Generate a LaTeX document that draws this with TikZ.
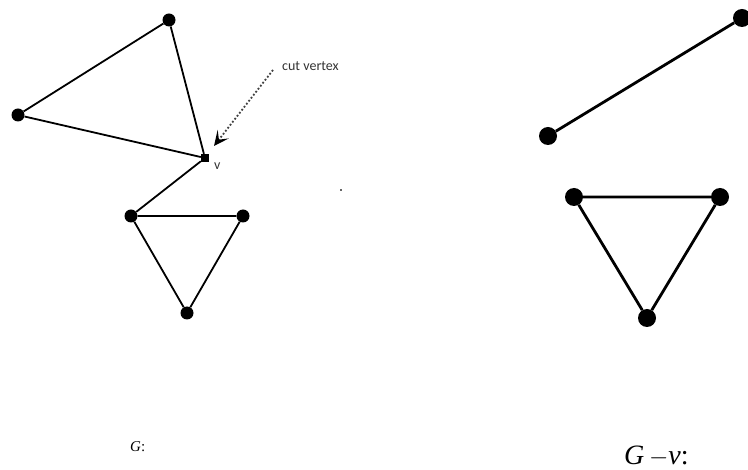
\documentclass[tikz,border=0pt]{standalone}
\usepackage{fontspec}
\setmainfont{Liberation Serif}
\newfontfamily\calibri{Carlito}
\usetikzlibrary{arrows.meta}
\begin{document}
\begin{tikzpicture}[x=1pt,y=-1pt,
  dotL/.style={circle,fill=black,inner sep=0pt,minimum size=13pt},
  dotR/.style={circle,fill=black,inner sep=0pt,minimum size=18pt},
  cutv/.style={rectangle,fill=black,inner sep=0pt,minimum size=8pt},
  edgeL/.style={line width=1.8pt},
  edgeR/.style={line width=2.8pt},
  note/.style={font=\calibri\fontsize{14}{16}\selectfont,text=black!80}]
\useasboundingbox (0,0) rectangle (748,470);

% graph G
\node[dotL] (a) at (169,20) {};
\node[dotL] (b) at (18,115) {};
\node[cutv] (v) at (205,158) {};
\node[dotL] (c) at (131,216) {};
\node[dotL] (d) at (243,216) {};
\node[dotL] (e) at (187,313) {};
\draw[edgeL] (a) -- (b) -- (v) -- (a);
\draw[edgeL] (v) -- (c);
\draw[edgeL] (c) -- (d) -- (e) -- (c);
\node[note,anchor=base west,inner sep=0pt] (vl) at (214,170) {v};

% annotation pointing at the cut vertex
\node[note,anchor=base west,inner sep=0pt] (cv) at (282,71) {cut vertex};
\coordinate (cvs) at (273,70);
\coordinate (cvt) at (214,146);
\draw[line width=1.8pt,dotted,black!75,-{Stealth[length=15pt,width=14pt,inset=7pt,black]}] (cvs) -- (cvt);

\node[fill=black!60,inner sep=0pt,minimum size=2.5pt] (speck) at (341,190) {};

% graph G - v
\node[dotR] (p) at (742,18) {};
\node[dotR] (q) at (548,136) {};
\node[dotR] (r) at (574,197) {};
\node[dotR] (s) at (720,197) {};
\node[dotR] (t) at (647,318) {};
\draw[edgeR] (p) -- (q);
\draw[edgeR] (r) -- (s) -- (t) -- (r);

% captions
\node[font=\fontsize{15}{17}\selectfont,anchor=base west,inner sep=0pt] (g1) at (130,452) {\textit{G}:};
\node[font=\fontsize{28}{32}\selectfont,anchor=base west,inner sep=0pt] (g2) at (624,465) {\textit{G}\,$-$\textit{v}:};
\end{tikzpicture}
\end{document}
